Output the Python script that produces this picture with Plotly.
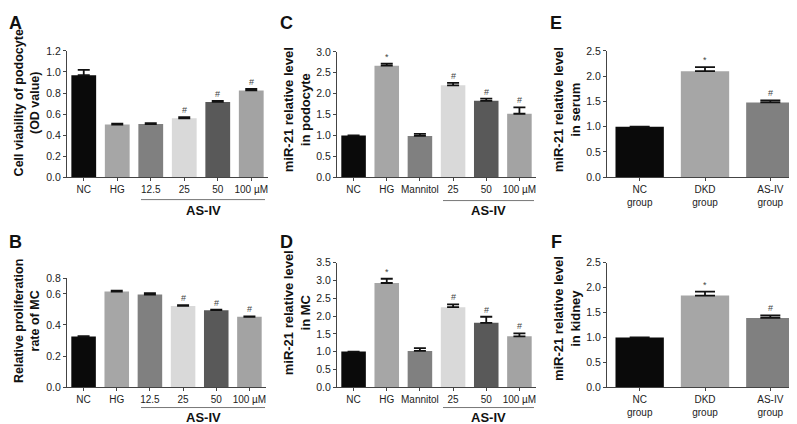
import plotly.graph_objects as go

W, H = 797, 424
FONT = "Liberation Sans, Arial, sans-serif"

# ---------------- data ----------------
A_cats = ["NC", "HG", "12.5", "25", "50", "100 µM"]
A_vals = [0.97, 0.50, 0.505, 0.56, 0.715, 0.825]
A_err = [0.05, 0.008, 0.008, 0.01, 0.01, 0.015]
A_sig = ["", "", "", "#", "#", "#"]

B_cats = ["NC", "HG", "12.5", "25", "50", "100 µM"]
B_vals = [0.325, 0.615, 0.595, 0.522, 0.495, 0.452]
B_err = [0.003, 0.006, 0.01, 0.005, 0.004, 0.003]
B_sig = ["", "", "", "#", "#", "#"]

C_cats = ["NC", "HG", "Mannitol", "25", "50", "100 µM"]
C_vals = [1.0, 2.67, 0.99, 2.2, 1.83, 1.52]
C_err = [0.0, 0.05, 0.05, 0.06, 0.05, 0.15]
C_sig = ["", "*", "", "#", "#", "#"]

D_cats = ["NC", "HG", "Mannitol", "25", "50", "100 µM"]
D_vals = [1.0, 2.93, 1.02, 2.25, 1.81, 1.43]
D_err = [0.0, 0.12, 0.08, 0.08, 0.17, 0.08]
D_sig = ["", "*", "", "#", "#", "#"]

E_cats = ["NC<br>group", "DKD<br>group", "AS-IV<br>group"]
E_vals = [1.0, 2.1, 1.48]
E_err = [0.0, 0.08, 0.04]
E_sig = ["", "*", "#"]

F_cats = ["NC<br>group", "DKD<br>group", "AS-IV<br>group"]
F_vals = [1.0, 1.84, 1.39]
F_err = [0.0, 0.08, 0.05]
F_sig = ["", "*", "#"]

six_colors_AB = ["#0a0a0a", "#a6a6a6", "#808080", "#d9d9d9", "#595959", "#a3a3a3"]
six_colors_CD = ["#0a0a0a", "#a6a6a6", "#808080", "#d9d9d9", "#595959", "#a3a3a3"]
three_colors = ["#0a0a0a", "#a6a6a6", "#808080"]


def px_x(p):
    return p / W


def px_y(p):
    return 1 - p / H


panels = [
    ("A", A_cats, A_vals, A_err, A_sig, six_colors_AB, (59, 260), (38, 168), [0, 1.2],
     [0, 0.2, 0.4, 0.6, 0.8, 1.0, 1.2], ["0.0", "0.2", "0.4", "0.6", "0.8", "1.0", "1.2"], 6),
    ("B", B_cats, B_vals, B_err, B_sig, six_colors_AB, (59, 258), (272, 384), [0, 0.7],
     [0, 0.2, 0.4, 0.6, 0.7], ["0.0", "0.2", "0.4", "0.6", "0.8"], 6),
    ("C", C_cats, C_vals, C_err, C_sig, six_colors_CD, (329, 528), (39, 168), [0, 3.0],
     [0, 0.5, 1.0, 1.5, 2.0, 2.5, 3.0], ["0.0", "0.5", "1.0", "1.5", "2.0", "2.5", "3.0"], 6),
    ("D", D_cats, D_vals, D_err, D_sig, six_colors_CD, (329, 528), (256, 384), [0, 3.5],
     [0, 0.5, 1.0, 1.5, 2.0, 2.5, 3.0, 3.5], ["0.0", "0.5", "1.0", "1.5", "2.0", "2.5", "3.0", "3.5"], 6),
    ("E", E_cats, E_vals, E_err, E_sig, three_colors, (599, 795), (38, 168), [0, 2.5],
     [0, 0.5, 1.0, 1.5, 2.0, 2.5], ["0.0", "0.5", "1.0", "1.5", "2.0", "2.5"], 10),
    ("F", F_cats, F_vals, F_err, F_sig, three_colors, (599, 795), (256, 384), [0, 2.5],
     [0, 0.5, 1.0, 1.5, 2.0, 2.5], ["0.0", "0.5", "1.0", "1.5", "2.0", "2.5"], 10),
]

fig = go.Figure()
layout = dict(
    width=W, height=H, margin=dict(l=0, r=0, t=0, b=0),
    paper_bgcolor="white", plot_bgcolor="white", showlegend=False,
    font=dict(family=FONT, color="#333"), bargap=0.26,
)
annotations = []
shapes = []

for i, (name, cats, vals, err, sig, colors, xd, yd, yr, tv, tt, capw) in enumerate(panels):
    idx = "" if i == 0 else str(i + 1)
    xa, ya = "x" + idx, "y" + idx
    pos = list(range(len(cats)))
    fig.add_trace(go.Bar(
        x=pos, y=vals, marker=dict(color=colors, line=dict(width=0)),
        error_y=dict(type="data", symmetric=False, array=err, arrayminus=[0] * len(err),
                     color="#111", thickness=1.8, width=capw),
        xaxis=xa, yaxis=ya, hoverinfo="skip",
    ))
    layout["xaxis" + idx] = dict(
        domain=[px_x(xd[0]), px_x(xd[1])], anchor=ya, range=[-0.5, len(cats) - 0.5],
        tickvals=pos, ticktext=cats,
        showline=True, linecolor="#444", linewidth=1, ticks="outside", ticklen=3,
        tickcolor="#444", showgrid=False, zeroline=False,
        tickfont=dict(size=10, color="#222", family=FONT),
    )
    layout["yaxis" + idx] = dict(
        domain=[px_y(yd[1]), px_y(yd[0])], anchor=xa, range=yr,
        showline=True, linecolor="#444", linewidth=1, ticks="outside", ticklen=3,
        tickcolor="#444", showgrid=False, zeroline=False,
        tickvals=tv, ticktext=tt, tickfont=dict(size=10.5, color="#222", family=FONT),
    )
    for p, v, e, s in zip(pos, vals, err, sig):
        if s:
            annotations.append(dict(
                x=p, y=v + e, xref=xa, yref=ya, text=s, showarrow=False,
                yanchor="middle", yshift=7, font=dict(size=9, color="#444", family=FONT),
            ))

# panel letters
letters = [("A", 8, 9), ("B", 8, 235), ("C", 278, 9), ("D", 278, 235), ("E", 548, 9), ("F", 548, 235)]
for t, x, y in letters:
    annotations.append(dict(x=px_x(x), y=px_y(y), xref="paper", yref="paper", text="<b>" + t + "</b>",
                            showarrow=False, xanchor="center", yanchor="middle",
                            font=dict(size=18, color="#111", family=FONT)))

# y-axis titles
titles = [
    ("Cell viability of podocyte<br>(OD value)", 19, 92, 12.5),
    ("Relative proliferation<br>rate of MC", 19, 316, 12.5),
    ("miR-21 relative level<br>in podocyte", 289, 99, 13),
    ("miR-21 relative level<br>in MC", 289, 308, 13),
    ("miR-21 relative level<br>in serum", 559, 99, 13),
    ("miR-21 relative level<br>in kidney", 559, 314, 13),
]
for t, x, y, s in titles:
    annotations.append(dict(x=px_x(x), y=px_y(y), xref="paper", yref="paper", text="<b>" + t + "</b>",
                            showarrow=False, textangle=-90, xanchor="center", yanchor="middle",
                            font=dict(size=s, color="#111", family=FONT)))

# AS-IV group brackets
groups = [((133, 257), 191, 202), ((133, 257), 405, 415), ((435, 526), 192, 202), ((435, 526), 405, 415)]
for (x0, x1), ly, ty in groups:
    shapes.append(dict(type="line", xref="paper", yref="paper", x0=px_x(x0), x1=px_x(x1),
                       y0=px_y(ly), y1=px_y(ly), line=dict(color="#777", width=1)))
    annotations.append(dict(x=px_x((x0 + x1) / 2), y=px_y(ty), xref="paper", yref="paper",
                            text="<b>AS-IV</b>", showarrow=False, xanchor="center", yanchor="middle",
                            font=dict(size=13, color="#111", family=FONT)))

layout["annotations"] = annotations
layout["shapes"] = shapes
fig.update_layout(**layout)
fig.write_html("out.html")
